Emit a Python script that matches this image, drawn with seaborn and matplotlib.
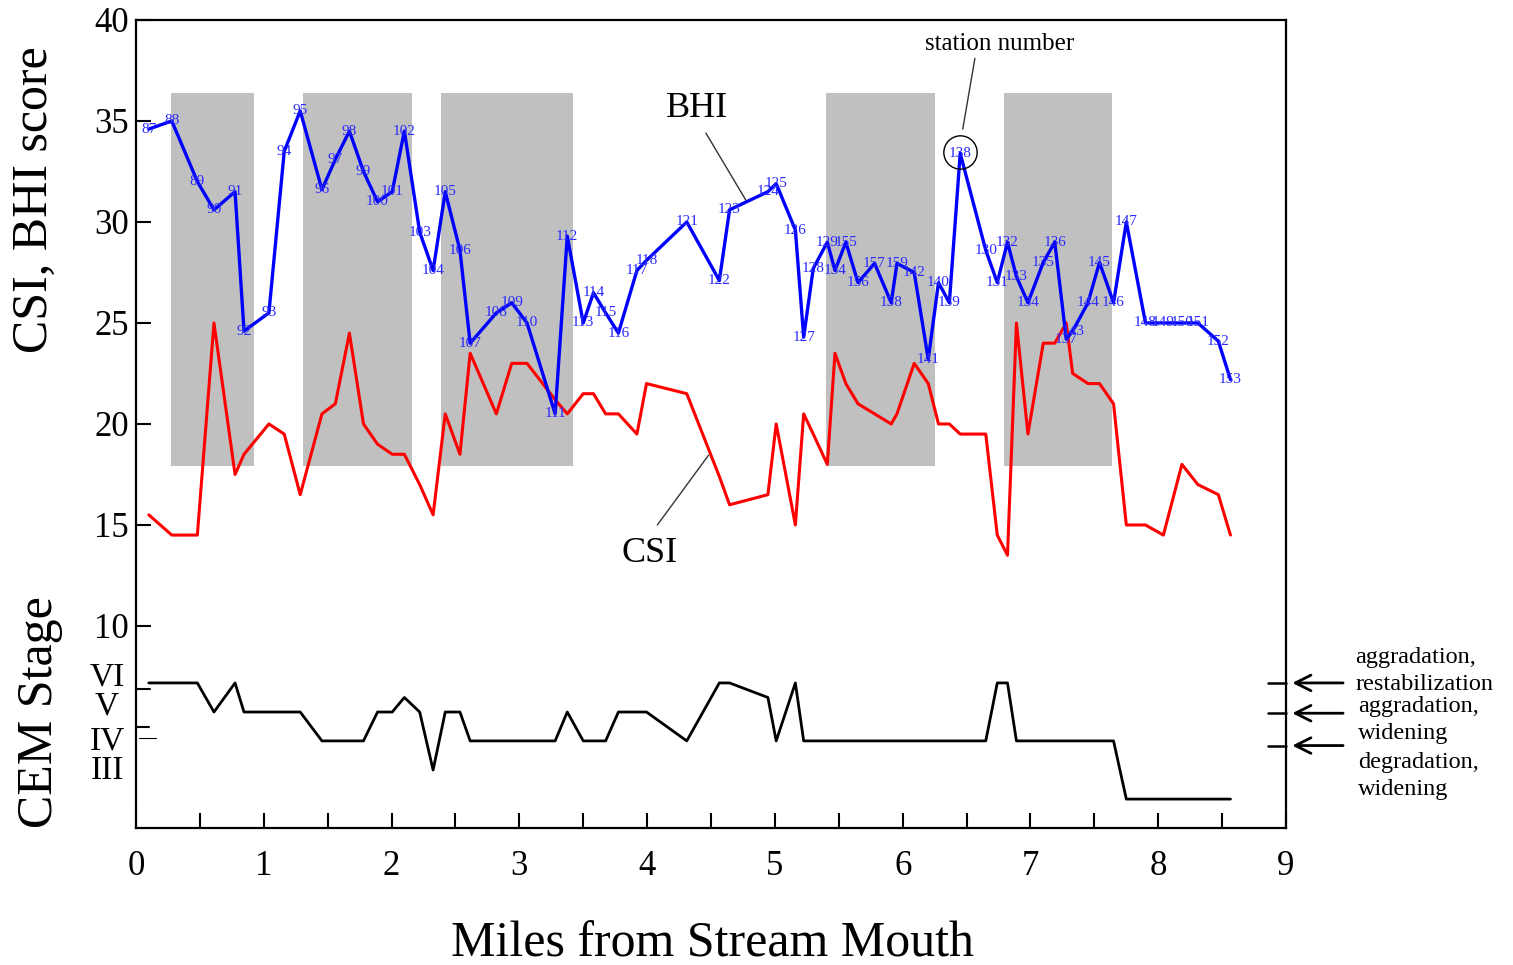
import numpy as np
import pandas as pd
import matplotlib
matplotlib.use("Agg")
import matplotlib.pyplot as plt
import matplotlib.transforms as mtransforms
import seaborn as sns

# datos (una fila por estacion)
estaciones = ["87", "88", "89", "90", "91", "92", "93", "94", "95", "96", "97", "98",
              "99", "100", "101", "102", "103", "104", "105", "106", "107", "108", "109",
              "110", "111", "112", "113", "114", "115", "116", "117", "118", "121", "122",
              "123", "124", "125", "126", "127", "128", "129", "134", "155", "156", "157",
              "158", "159", "142", "141", "140", "139", "138", "130", "131", "132", "133",
              "134", "135", "136", "137", "143", "144", "145", "146", "147", "148", "149",
              "150", "151", "152", "153"]

millas = [0.10, 0.28, 0.48, 0.61, 0.775, 0.845, 1.04, 1.16, 1.285, 1.455, 1.56, 1.67,
          1.78, 1.89, 2.005, 2.10, 2.22, 2.325, 2.42, 2.535, 2.615, 2.82, 2.94,
          3.06, 3.28, 3.375, 3.50, 3.58, 3.675, 3.775, 3.92, 3.995, 4.31, 4.565,
          4.645, 4.945, 5.01, 5.16, 5.225, 5.30, 5.41, 5.47, 5.555, 5.65, 5.78,
          5.91, 5.955, 6.09, 6.20, 6.28, 6.365, 6.45, 6.65, 6.74, 6.82, 6.89,
          6.98, 7.10, 7.19, 7.28, 7.33, 7.45, 7.54, 7.65, 7.75, 7.90, 8.04,
          8.185, 8.31, 8.47, 8.565]

bhi = [34.6, 35.0, 32.0, 30.6, 31.5, 24.6, 25.5, 33.5, 35.5, 31.6, 33.1, 34.5,
       32.5, 31.0, 31.5, 34.5, 29.5, 27.6, 31.5, 28.6, 24.0, 25.5, 26.0,
       25.0, 20.5, 29.3, 25.0, 26.5, 25.5, 24.5, 27.6, 28.1, 30.0, 27.1,
       30.6, 31.5, 31.9, 29.6, 24.3, 27.7, 29.0, 27.6, 29.0, 27.0, 27.95,
       26.0, 27.95, 27.5, 23.2, 27.0, 26.0, 33.4, 28.6, 27.0, 29.0, 27.3,
       26.0, 28.0, 29.0, 24.2, 24.6, 26.0, 28.0, 26.0, 30.0, 25.0, 25.0,
       25.0, 25.0, 24.1, 22.2]

csi = [15.5, 14.5, 14.5, 25.0, 17.5, 18.5, 20.0, 19.5, 16.5, 20.5, 21.0, 24.5,
       20.0, 19.0, 18.5, 18.5, 17.0, 15.5, 20.5, 18.5, 23.5, 20.5, 23.0,
       23.0, 21.2, 20.5, 21.5, 21.5, 20.5, 20.5, 19.5, 22.0, 21.5, 17.4,
       16.0, 16.5, 20.0, 15.0, 20.5, 19.5, 18.0, 23.5, 22.0, 21.0, 20.5,
       20.0, 20.5, 23.0, 22.0, 20.0, 20.0, 19.5, 19.5, 14.5, 13.5, 25.0,
       19.5, 24.0, 24.0, 25.0, 22.5, 22.0, 22.0, 21.0, 15.0, 15.0, 14.5,
       18.0, 17.0, 16.5, 14.5]

cem = [6, 6, 6, 5, 6, 5, 5, 5, 5, 4, 4, 4,
       4, 5, 5, 5.5, 5, 3.5, 5, 5, 4, 4, 4,
       4, 4, 5, 4, 4, 4, 5, 5, 5, 4, 6,
       6, 5.5, 4, 6, 4, 4, 4, 4, 4, 4, 4,
       4, 4, 4, 4, 4, 4, 4, 4, 6, 6, 4,
       4, 4, 4, 4, 4, 4, 4, 4, 3, 3, 3,
       3, 3, 3, 3]

# bandas grises (inicio, fin) en millas
bandas = [(0.27, 0.92), (1.31, 2.16), (2.39, 3.42), (5.40, 6.25), (6.79, 7.64)]
banda_y = (17.9, 36.4)

# etapas CEM y su nivel en el eje vertical
etapa_num = [3, 4, 5, 6]
etapa_nom = ["III", "IV", "V", "VI"]
etapa_nivel = [1.43, 4.31, 5.74, 7.18]

df = pd.DataFrame({"milla": millas, "bhi": bhi, "csi": csi,
                   "cem": np.interp(cem, etapa_num, etapa_nivel)})

sns.set_style("ticks")
plt.rcParams["font.family"] = ["Liberation Serif", "DejaVu Serif"]
plt.rcParams["text.color"] = "black"
plt.rcParams["xtick.color"] = "black"
plt.rcParams["ytick.color"] = "black"
plt.rcParams["axes.edgecolor"] = "black"

fig = plt.figure(figsize=(15.13, 9.65), dpi=100)
ax = fig.add_axes([0.0899, 0.142, 0.7601, 0.8373])

for a, b in bandas:
    ax.fill_between([a, b], banda_y[0], banda_y[1], color="#c0c0c0", lw=0, zorder=0)

sns.lineplot(data=df, x="milla", y="bhi", color="#0000ff", lw=2.4, sort=False,
             estimator=None, ax=ax, zorder=3)
sns.lineplot(data=df, x="milla", y="csi", color="#ff0000", lw=2.2, sort=False,
             estimator=None, ax=ax, zorder=2)
sns.lineplot(data=df, x="milla", y="cem", color="black", lw=2.0, sort=False,
             estimator=None, ax=ax, zorder=2)

for lab, x, y in zip(estaciones, millas, bhi):
    ax.text(x, y, lab, color="#2a2aff", fontsize=11, ha="center", va="center", zorder=4)

ax.set_xlim(0, 9)
ax.set_ylim(0, 40)
ax.set_xticks(range(0, 10))
ax.set_xticks(np.arange(0.5, 9, 1.0), minor=True)
ax.set_yticks(range(10, 41, 5))
ax.tick_params(axis="both", which="both", direction="in", length=11, width=1.5,
               labelsize=25, color="black", labelcolor="black")
ax.tick_params(axis="x", which="major", pad=16)
ax.tick_params(axis="y", pad=5)
ax.set_xlabel("")
ax.set_ylabel("")
for s in ax.spines.values():
    s.set_linewidth(1.6)
    s.set_color("black")

trans = mtransforms.blended_transform_factory(ax.transAxes, ax.transData)

# etiquetas de etapas CEM a la izquierda
for nom, yy in zip(["VI", "V", "IV", "III"], [7.48, 6.04, 4.31, 2.82]):
    ax.text(-0.0252, yy, nom, transform=trans, fontsize=24, ha="center", va="center",
            clip_on=False)
ax.plot([0, 0.012], [6.88, 6.88], transform=trans, color="black", lw=1.5, clip_on=False)
ax.plot([0, 0.011], [5.0, 5.0], transform=trans, color="black", lw=1.5, clip_on=False)
ax.plot([0.003, 0.017], [4.46, 4.46], transform=trans, color="black", lw=0.8, clip_on=False)

# marcas y flechas de la derecha
for yy in [7.18, 5.68, 4.08]:
    ax.plot([0.984, 1.0], [yy, yy], transform=trans, color="black", lw=1.8, clip_on=False)
    ax.annotate("", xy=(1.003, yy), xycoords=trans, xytext=(1.052, yy), textcoords=trans,
                arrowprops=dict(arrowstyle="->", lw=2, color="black", mutation_scale=28),
                annotation_clip=False)

fig.text(0.8956, 0.3047, "aggradation,\nrestabilization", fontsize=17.5,
         ha="left", va="center", linespacing=1.42)
fig.text(0.8975, 0.2539, "aggradation,\nwidening", fontsize=17.5,
         ha="left", va="center", linespacing=1.42)
fig.text(0.8975, 0.1959, "degradation,\nwidening", fontsize=17.5,
         ha="left", va="center", linespacing=1.42)

# anotaciones BHI, CSI y numero de estacion
ax.text(4.39, 35.64, "BHI", fontsize=26, ha="center", va="center")
ax.plot([4.46, 4.78], [34.4, 31.0], color="#333333", lw=1.0)
ax.text(4.02, 13.6, "CSI", fontsize=26, ha="center", va="center")
ax.plot([4.08, 4.48], [15.0, 18.45], color="#333333", lw=1.0)
ax.text(6.76, 38.8, "station number", fontsize=18, ha="center", va="center")
ax.plot([6.565, 6.47], [38.1, 34.6], color="#333333", lw=1.0)
ax.plot([6.45], [33.45], marker="o", markersize=24, markerfacecolor="none",
        markeredgecolor="black", markeredgewidth=1.0, zorder=5)

fig.text(0.0231, 0.7927, "CSI, BHI score", fontsize=36, rotation=90,
         ha="center", va="center")
fig.text(0.0264, 0.262, "CEM Stage", fontsize=36, rotation=90,
         ha="center", va="center")
fig.text(0.4706, 0.022, "Miles from Stream Mouth", fontsize=36,
         ha="center", va="center")

fig.savefig("out.png", dpi=100)
